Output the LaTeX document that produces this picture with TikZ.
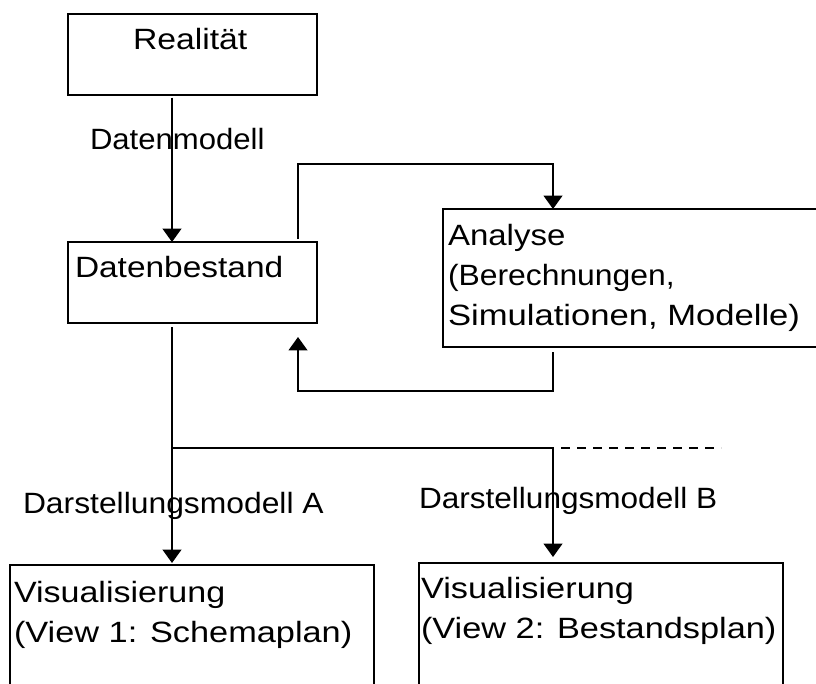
\documentclass[tikz,border=0pt]{standalone}
\usepackage{fontspec}
\usepackage{graphicx}
\setmainfont{Liberation Sans}
\usetikzlibrary{arrows.meta}
\newcommand\hsc[2]{\scalebox{#1}[1]{#2}}
\begin{document}
\begin{tikzpicture}[x=0.75pt,y=-0.75pt,
  box/.style={draw,line width=1.4pt,inner sep=0pt,outer sep=0pt,anchor=north west},
  lbl/.style={anchor=base west,inner sep=0pt,outer sep=0pt,font=\fontsize{22}{30}\selectfont},
  conn/.style={line width=1.4pt},
  arr/.style={conn,-{Triangle[width=14pt,length=10pt]}}]
\useasboundingbox (0,0) rectangle (816,684);
\clip (0,0) rectangle (816,684);
% boxes
\node[box,minimum width=186.75pt,minimum height=60.75pt] (real) at (68,14) {};
\node[box,minimum width=186.75pt,minimum height=60.75pt] (bestand) at (68,242) {};
\node[box,minimum width=300pt,minimum height=103.5pt] (analyse) at (443,209) {};
\node[box,minimum width=273pt,minimum height=112.5pt] (visA) at (10,565) {};
\node[box,minimum width=273pt,minimum height=112.5pt] (visB) at (419,563) {};
% texts
\node[lbl] (t1) at (133,50) {\hsc{1.15}{Realität}};
\node[lbl] (t2) at (90,150) {\hsc{1.06}{Datenmodell}};
\node[lbl] (t3) at (75,277) {\hsc{1.14}{Datenbestand}};
\node[lbl] (t4) at (448,245) {\hsc{1.125}{Analyse}};
\node[lbl] (t5) at (448,285) {\hsc{1.086}{(Berechnungen,}};
\node[lbl] (t6) at (448,325) {\hsc{1.18}{Simulationen, Modelle)}};
\node[lbl] (t7) at (23,513) {\hsc{1.085}{Darstellungsmodell A}};
\node[lbl] (t8) at (419,508) {\hsc{1.076}{Darstellungsmodell B}};
\node[lbl] (t9) at (14,602) {\hsc{1.16}{Visualisierung}};
\node[lbl] (t10) at (14,642) {\hsc{1.17}{(View 1: Schemaplan)}};
\node[lbl] (t11) at (421,598) {\hsc{1.17}{Visualisierung}};
\node[lbl] (t12) at (421,638) {\hsc{1.17}{(View 2: Bestandsplan)}};
% helper coordinates
\coordinate (xa) at (172,0);
\coordinate (xb) at (298,0);
\coordinate (xc) at (553,0);
\coordinate (ytop) at (0,164);
\coordinate (ybot) at (0,391);
\coordinate (ybr) at (0,448);
\coordinate (dashend) at (721,448);
% connectors
\draw[arr] ([yshift=-2pt]real.south -| xa) -- (bestand.north -| xa);
\draw[arr] ([yshift=2.25pt]bestand.north -| xb) -- (xb |- ytop) -- (xc |- ytop) -- (analyse.north -| xc);
\draw[arr,shorten >=10.5pt] ([yshift=-4pt]analyse.south -| xc) -- (xc |- ybot) -- (xb |- ybot) -- (bestand.south -| xb);
\draw[arr,shorten >=1.5pt] ([yshift=-3pt]bestand.south -| xa) -- (visA.north -| xa);
\draw[arr,shorten >=4.5pt] (xa |- ybr) -- (xc |- ybr) -- (visB.north -| xc);
\draw[conn,dash pattern=on 6.75pt off 5.25pt] ([xshift=6pt]xc |- ybr) -- (dashend);
\end{tikzpicture}
\end{document}
